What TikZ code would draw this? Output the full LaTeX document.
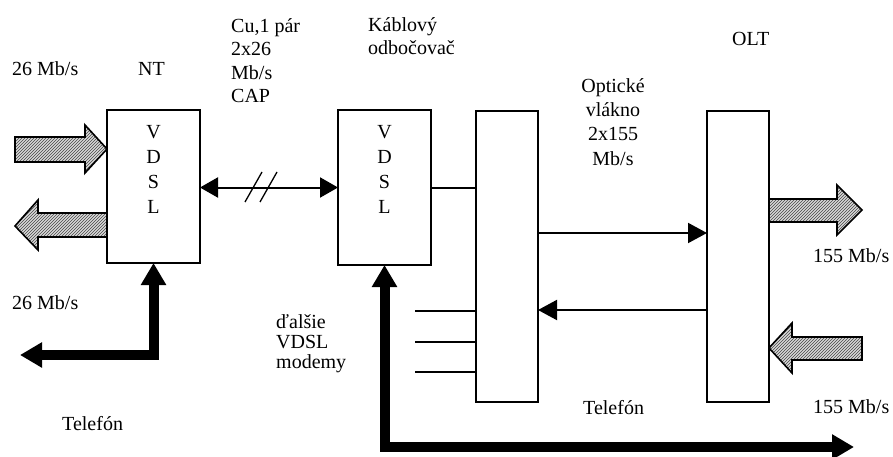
\documentclass[tikz,border=0pt]{standalone}
\usepackage{fontspec}
\setmainfont{Liberation Serif}
\usetikzlibrary{arrows.meta,patterns}
\begin{document}
\begin{tikzpicture}[x=1pt,y=-1pt,
  box/.style={draw,line width=2pt,inner sep=0pt,outer sep=0pt},
  lbl/.style={inner sep=0pt,anchor=base west,font=\fontsize{20}{23.5}\selectfont},
  conn/.style={line width=2pt},
  tipend/.style={-{Triangle[length=19pt,width=20pt]}},
  bothtip/.style={{Triangle[length=18pt,width=20pt]}-{Triangle[length=18pt,width=20pt]}},
  fat/.style={line width=10pt,line join=miter,{Triangle[length=22pt,width=24pt]}-{Triangle[length=22pt,width=24pt]}},
  hatch/.style={draw,line width=1.6pt,line join=miter,preaction={fill=gray!30},pattern=north east lines,pattern color=gray!55!black}
]
\useasboundingbox (0,0) rectangle (893,457);

% hatched data arrows
\path[hatch] (15,137) -- (85,137) -- (85,125) -- (107,149) -- (85,173) -- (85,162) -- (15,162) -- cycle;
\path[hatch] (107,213) -- (38,213) -- (38,200) -- (15,226) -- (38,250) -- (38,237) -- (107,237) -- cycle;
\path[hatch] (769,199) -- (837,199) -- (837,185) -- (862,210) -- (837,235) -- (837,222) -- (769,222) -- cycle;
\path[hatch] (769,348) -- (792,323) -- (792,337) -- (862,337) -- (862,360) -- (792,360) -- (792,373) -- cycle;

% boxes
\node[box,fill=white,minimum width=93pt,minimum height=153pt] (NT) at (153.5,186.5) {};
\node[box,fill=white,minimum width=93pt,minimum height=155pt] (V2) at (384.5,187.5) {};
\node[box,fill=white,minimum width=62pt,minimum height=291pt] (S) at (507,256.5) {};
\node[box,fill=white,minimum width=62pt,minimum height=291pt] (O) at (738,256.5) {};

\node[lbl,anchor=base,align=center,font=\fontsize{20}{25}\selectfont] (vd1) at (153.5,213) {V\\D\\S\\L};
\node[lbl,anchor=base,align=center,font=\fontsize{20}{25}\selectfont] (vd2) at (384.5,213) {V\\D\\S\\L};

% connectors
\draw[conn,bothtip] (NT.east |- V2.west) -- (V2.west);
\draw[line width=1.3pt] (245,202) -- (262,172);
\draw[line width=1.3pt] (260,202) -- (277,172);
\draw[conn] (V2.east) -- (S.west |- V2.east);

\coordinate (yA) at (0,233);
\coordinate (yB) at (0,310);
\draw[conn,tipend] (S.east |- yA) -- (O.west |- yA);
\draw[conn,tipend] (O.west |- yB) -- (S.east |- yB);

\coordinate (m1) at (415,311);
\coordinate (m2) at (415,342);
\coordinate (m3) at (415,372);
\draw[conn] (m1) -- (S.west |- m1);
\draw[conn] (m2) -- (S.west |- m2);
\draw[conn] (m3) -- (S.west |- m3);

\coordinate (tel1) at (20,355);
\coordinate (tel2) at (854,447);
\draw[fat] (tel1) -- (NT.south |- tel1) -- (NT.south);
\draw[fat] (V2.south) -- (V2.south |- tel2) -- (tel2);

% labels
\node[lbl] (t26a) at (12,76) {26 Mb/s};
\node[lbl] (tNT) at (138,76) {NT};
\node[lbl,align=left] (tcu) at (231,103) {Cu,1 pár\\2x26\\Mb/s\\CAP};
\node[lbl,align=left] (tkab) at (368,55) {Káblový\\odbočovač};
\node[lbl] (tolt) at (732,46) {OLT};
\node[lbl,anchor=base,align=center,font=\fontsize{20}{24.3}\selectfont] (topt) at (613,165) {Optické\\vlákno\\2x155\\Mb/s};
\node[lbl] (t155a) at (813,262) {155 Mb/s};
\node[lbl] (t155b) at (813,413) {155 Mb/s};
\node[lbl] (t26b) at (12,309) {26 Mb/s};
\node[lbl] (ttel1) at (62,430) {Telefón};
\node[lbl] (ttel2) at (583,414) {Telefón};
\node[lbl,align=left,font=\fontsize{20}{20}\selectfont] (tdal) at (276,368) {ďalšie\\VDSL\\modemy};
\end{tikzpicture}
\end{document}
